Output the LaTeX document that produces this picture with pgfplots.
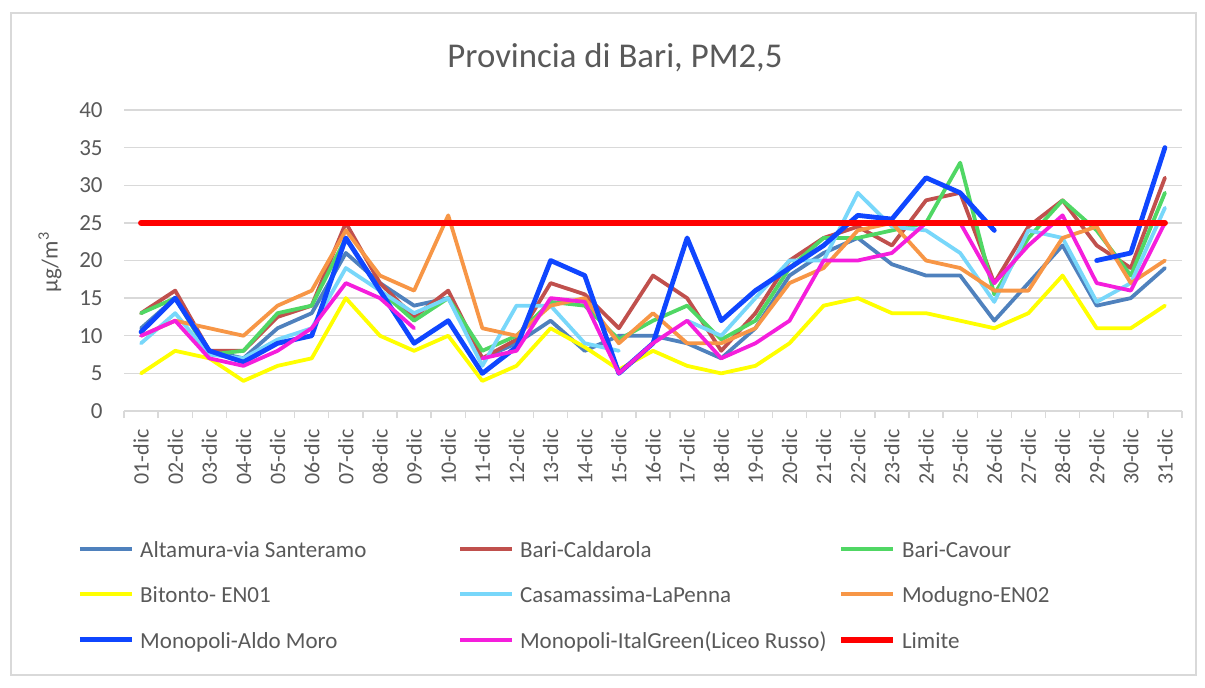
\documentclass[border=0pt]{standalone}
\usepackage{fontspec}
\setmainfont{Carlito}
\usepackage{pgfplots}
\usepackage{pgfplotstable}
\pgfplotsset{compat=1.18}
\definecolor{cAlt}{RGB}{79,129,189}
\definecolor{cCald}{RGB}{192,80,77}
\definecolor{cCav}{RGB}{80,215,100}
\definecolor{cBit}{RGB}{255,255,0}
\definecolor{cCas}{RGB}{120,215,250}
\definecolor{cMod}{RGB}{247,150,70}
\definecolor{cMono}{RGB}{15,70,255}
\definecolor{cItal}{RGB}{245,30,220}
\definecolor{cLim}{RGB}{255,0,0}
\definecolor{gridgray}{RGB}{217,217,217}
\definecolor{tickgray}{RGB}{89,89,89}

\pgfplotstableread{
day alt cald cav bit cas mod mono ital lim
1  11   13   13   5   9    10   10.5 10  25
2  15   16   15   8   13   12   15   12  25
3  8    8    7.5  7   7.5  11   8    7   25
4  7    8    8    4   7    10   6.5  6   25
5  11   12.5 13   6   9.5  14   9    8   25
6  13   14   14   7   11   16   10   11  25
7  21   25   23   15  19   24   23   17  25
8  17   17   16   10  16   18   16   15  25
9  14   12.5 12   8   13   16   9    11  25
10 15   16   15   10  15   26   12   nan 25
11 7    7    8    4   6    11   5    7   25
12 9    9.5  10   6   14   10   8.5  8   25
13 12   17   14.5 11  14   14   20   15  25
14 8    15.5 14   8.5 9    15   18   14.5 25
15 10   11   9.5  5.5 8    9    5    5   25
16 10   18   12   8   nan  13   9    9   25
17 9    15   14   6   12   9    23   12  25
18 7    8    9.5  5   10   9    12   7   25
19 11   13   12   6   15   11   16   9   25
20 18   20   19   9   20   17   19   12  25
21 21   23   23   14  20   19   22   20  25
22 23   24.5 23   15  29   24   26   20  25
23 19.5 22   24   13  24.5 25   25.5 21  25
24 18   28   25   13  24   20   31   25  25
25 18   29   33   12  21   19   29   25  25
26 12   17   15.5 11  14.5 16   24   17  25
27 17   24.5 23   13  24   16   nan  22  25
28 22   28   28   18  23   23   nan  26  25
29 14   22   24   11  14.5 24.5 20   17  25
30 15   19   18   11  17   17   21   16  25
31 19   31   29   14  27   20   35   25  25
}\data

\newcommand{\lfont}{\fontsize{11.5}{14}\selectfont}
\newcommand{\tfont}{\fontsize{11}{13}\selectfont}
\newcommand{\lent}[1]{\makebox[159pt][l]{\strut #1}}

\begin{document}
\begin{tikzpicture}
\useasboundingbox (0,0) rectangle (602.5pt,343.5pt);
\draw[gridgray, line width=1.2pt] (5.5pt,6pt) rectangle (598pt,337pt);
\node[font=\fontsize{17.4}{20}\selectfont, text=tickgray] at (307.5pt,314.5pt) {Provincia di Bari, PM2,5};
\node[rotate=90, font=\lfont, text=tickgray] at (25pt,212.5pt) {µg/m\textsuperscript{3}};
\begin{axis}[
  at={(62pt,138pt)}, anchor=south west, scale only axis,
  width=529pt, height=150.5pt,
  xmin=0.5, xmax=31.5, ymin=0, ymax=40,
  xtick={1,...,31},
  xticklabels={01-dic,02-dic,03-dic,04-dic,05-dic,06-dic,07-dic,08-dic,09-dic,10-dic,11-dic,12-dic,13-dic,14-dic,15-dic,16-dic,17-dic,18-dic,19-dic,20-dic,21-dic,22-dic,23-dic,24-dic,25-dic,26-dic,27-dic,28-dic,29-dic,30-dic,31-dic},
  minor xtick={0.5,1.5,...,31.5},
  ytick={0,5,...,40},
  ymajorgrids, grid style={draw=gridgray, line width=0.7pt},
  axis line style={draw=none},
  tick align=outside, major tick length=0pt, minor tick length=3.5pt,
  minor tick style={draw=gridgray, line width=0.7pt},
  xtick pos=lower, ytick pos=left,
  tick label style={font=\lfont, text=tickgray},
  /pgf/number format/assume math mode=true,
  xticklabel style={rotate=90, anchor=east, inner sep=0pt, font=\tfont},
  xticklabel shift=9pt,
  yticklabel style={inner sep=0pt},
  yticklabel shift=10.5pt,
  unbounded coords=jump,
  every axis plot/.append style={line join=round, line cap=round, line width=1.9pt},
  legend columns=3,
  legend image code/.code={\draw[#1, line cap=butt] (0pt,0pt) -- (26pt,0pt);},
  legend style={at={(-0.0444,-0.4186)}, anchor=north west, draw=none, fill=none,
    inner sep=0pt, font=\lfont, text=tickgray, row sep=11.5pt,
    nodes={inner sep=0pt},
    /tikz/every odd column/.append style={column sep=3pt}},
  legend cell align=left,
]
\addplot[cAlt] table[x=day,y=alt]{\data};
\addplot[cCald] table[x=day,y=cald]{\data};
\addplot[cCav] table[x=day,y=cav]{\data};
\addplot[cBit] table[x=day,y=bit]{\data};
\addplot[cCas] table[x=day,y=cas]{\data};
\addplot[cMod] table[x=day,y=mod]{\data};
\addplot[cMono, line width=2.4pt] table[x=day,y=mono]{\data};
\addplot[cItal] table[x=day,y=ital]{\data};
\addplot[cLim, line width=3pt] table[x=day,y=lim]{\data};
\legend{\lent{Altamura-via Santeramo},\lent{Bari-Caldarola},\lent{Bari-Cavour},\lent{Bitonto- EN01},\lent{Casamassima-LaPenna},\lent{Modugno-EN02},\lent{Monopoli-Aldo Moro},\lent{Monopoli-ItalGreen(Liceo Russo)},\lent{Limite}}
\end{axis}
\end{tikzpicture}
\end{document}
